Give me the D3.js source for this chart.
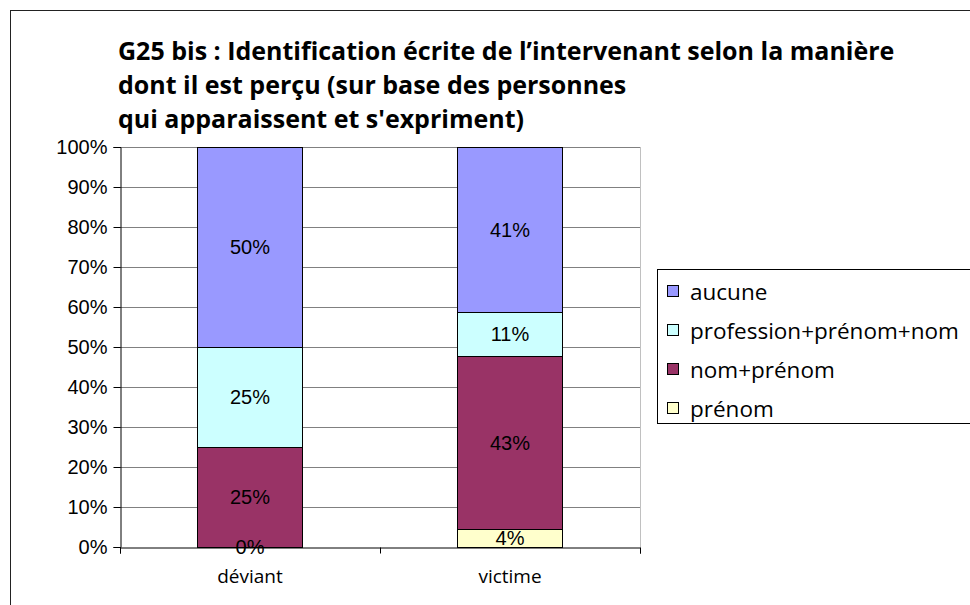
<!DOCTYPE html>
<html>
<head>
<meta charset="utf-8">
<script src="https://cdn.jsdelivr.net/npm/d3@7"></script>
<style>
  body { margin: 0; background: #fff; }
  svg { display: block; }
</style>
</head>
<body>
<div id="container"></div>
<script>
const width = 970, height = 605;

// data
const categories = ["déviant", "victime"];
const seriesNames = ["prénom", "nom+prénom", "profession+prénom+nom", "aucune"];
const prenom = [0, 4.4];
const nomPrenom = [25, 43.4];
const professionPrenomNom = [25, 11.0];
const aucune = [50, 41.2];
const yTicks = [0, 10, 20, 30, 40, 50, 60, 70, 80, 90, 100];
const legendItems = ["aucune", "profession+prénom+nom", "nom+prénom", "prénom"];
const titleLines = [
  "G25 bis : Identification écrite de l’intervenant selon la manière",
  "dont il est perçu (sur base des personnes",
  "qui apparaissent et s'expriment)"
];

const colors = {
  "prénom": "#FFFFCC",
  "nom+prénom": "#993366",
  "profession+prénom+nom": "#CCFFFF",
  "aucune": "#9999FF"
};

const plot = { left: 120, right: 640, top: 147, bottom: 547 };

const svg = d3.select("#container").append("svg")
  .attr("width", width)
  .attr("height", height);

// outer chart border
svg.append("rect")
  .attr("x", 10.5).attr("y", 10.5)
  .attr("width", width + 20).attr("height", height + 20)
  .attr("fill", "none").attr("stroke", "#222").attr("stroke-width", 1);

// title
svg.append("g").selectAll("text")
  .data(titleLines)
  .join("text")
  .attr("x", 118)
  .attr("y", (d, i) => 60 + i * 34)
  .style("font-family", "'Open Sans', sans-serif")
  .style("font-weight", "bold")
  .style("font-size", "25px")
  .text(d => d);

/* SCALES */
const xScale = d3.scaleBand()
  .domain(categories)
  .range([plot.left, plot.right])
  .paddingInner(0.596)
  .paddingOuter(0.298);

const yScale = d3.scaleLinear()
  .domain([0, 100])
  .range([plot.bottom, plot.top]);

// gridlines
svg.append("g").selectAll("line")
  .data(yTicks.filter(d => d > 0))
  .join("line")
  .attr("x1", plot.left).attr("x2", plot.right)
  .attr("y1", d => Math.round(yScale(d)) + 0.5)
  .attr("y2", d => Math.round(yScale(d)) + 0.5)
  .attr("stroke", "#808080");

// plot right border
svg.append("line")
  .attr("x1", plot.right + 0.5).attr("x2", plot.right + 0.5)
  .attr("y1", plot.top).attr("y2", plot.bottom)
  .attr("stroke", "#c0c0c0");

// stacked data
const table = categories.map((c, i) => ({
  category: c,
  "prénom": prenom[i],
  "nom+prénom": nomPrenom[i],
  "profession+prénom+nom": professionPrenomNom[i],
  "aucune": aucune[i]
}));
const stacked = d3.stack().keys(seriesNames)(table);

const layers = svg.append("g").selectAll("g")
  .data(stacked)
  .join("g")
  .attr("fill", d => colors[d.key]);

layers.selectAll("rect")
  .data(d => d.filter(s => s[1] - s[0] > 0))
  .join("rect")
  .attr("x", d => Math.round(xScale(d.data.category)) + 0.5)
  .attr("y", d => Math.round(yScale(d[1])) + 0.5)
  .attr("width", Math.round(xScale.bandwidth()))
  .attr("height", d => Math.round(yScale(d[0])) - Math.round(yScale(d[1])))
  .attr("stroke", "#000")
  .attr("stroke-width", 1);

// value labels
const labelData = stacked.flatMap(layer => layer.map(s => ({ key: layer.key, s })));
svg.append("g").selectAll("text")
  .data(labelData)
  .join("text")
  .attr("x", d => xScale(d.s.data.category) + xScale.bandwidth() / 2)
  .attr("y", d => yScale((d.s[0] + d.s[1]) / 2))
  .attr("dy", "0.36em")
  .attr("text-anchor", "middle")
  .style("font-family", "'Liberation Sans', Arial, sans-serif")
  .style("font-size", "20px")
  .text(d => Math.round(d.s[1] - d.s[0]) + "%");

/* AXES */
const yAxis = d3.axisLeft(yScale)
  .tickValues(yTicks)
  .tickSize(7)
  .tickPadding(6)
  .tickFormat(d => d + "%");

const gy = svg.append("g")
  .attr("transform", `translate(${plot.left + 0.5},0)`)
  .call(yAxis);
gy.select(".domain").attr("stroke", "#000");
gy.selectAll(".tick text")
  .style("font-family", "'Liberation Sans', Arial, sans-serif")
  .style("font-size", "20px")
  .attr("fill", "#000");

const xTickScale = d3.scalePoint()
  .domain([0, 1, 2])
  .range([plot.left, plot.right]);
const gxTicks = svg.append("g")
  .attr("transform", `translate(0,${plot.bottom + 0.5})`)
  .call(d3.axisBottom(xTickScale).tickSize(6).tickFormat(""));
gxTicks.select(".domain").attr("stroke", "#000");

const gx = svg.append("g")
  .attr("transform", `translate(0,${plot.bottom + 0.5})`)
  .call(d3.axisBottom(xScale).tickSize(0).tickPadding(22));
gx.select(".domain").remove();
gx.selectAll(".tick text")
  .style("font-family", "'Open Sans', sans-serif")
  .style("font-size", "19px")
  .attr("fill", "#000");

/* LEGEND */
svg.append("rect")
  .attr("x", 657.5).attr("y", 269.5)
  .attr("width", 330).attr("height", 154)
  .attr("fill", "#fff").attr("stroke", "#000");

const legend = svg.append("g").selectAll("g")
  .data(legendItems)
  .join("g")
  .attr("transform", (d, i) => `translate(667,${293 + i * 39})`);
legend.append("rect")
  .attr("x", 0.5).attr("y", -7.5)
  .attr("width", 11).attr("height", 11)
  .attr("fill", d => colors[d])
  .attr("stroke", "#000");
legend.append("text")
  .attr("x", 23)
  .attr("dy", "0.32em")
  .style("font-family", "'Open Sans', sans-serif")
  .style("font-size", "22.5px")
  .text(d => d);
</script>
</body>
</html>
